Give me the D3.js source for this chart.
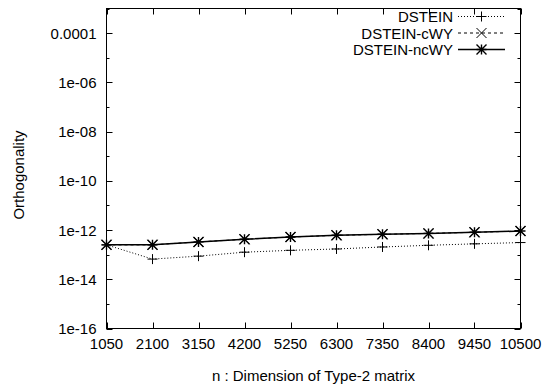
<!DOCTYPE html>
<html lang="en">
<head>
    <meta charset="UTF-8">
    <title>Orthogonality</title>
    <script src="https://d3js.org/d3.v7.min.js"></script>
    <style>
        body { margin: 0; background: #fff; }
        text { font-family: "Liberation Sans", Arial, sans-serif; font-size: 15px; fill: #000; }
    </style>
</head>
<body>
<script>
// data
const sizes = [1050, 2100, 3150, 4200, 5250, 6300, 7350, 8400, 9450, 10500];
const dstein = [2.5e-13, 6.6e-14, 8.7e-14, 1.26e-13, 1.5e-13, 1.7e-13, 2.05e-13, 2.4e-13, 2.75e-13, 3.1e-13];
const dsteinCWY = [2.5e-13, 2.5e-13, 3.3e-13, 4.2e-13, 5.2e-13, 6.1e-13, 6.7e-13, 7.3e-13, 8.1e-13, 9.1e-13];
const dsteinNcWY = [2.5e-13, 2.5e-13, 3.3e-13, 4.2e-13, 5.2e-13, 6.1e-13, 6.7e-13, 7.3e-13, 8.1e-13, 9.1e-13];
const yTickLabels = ["1e-16", "1e-14", "1e-12", "1e-10", "1e-08", "1e-06", "0.0001"];
const seriesNames = ["DSTEIN", "DSTEIN-cWY", "DSTEIN-ncWY"];

const width = 548, height = 385;
const margin = {left: 106.5, right: 27.5, top: 8.5, bottom: 57};

const svg = d3.select("body").append("svg")
    .attr("width", width)
    .attr("height", height);

const x = d3.scaleLinear()
    .domain([1050, 10500])
    .range([margin.left, width - margin.right]);

const y = d3.scaleLog()
    .domain([1e-16, 1e-3])
    .range([height - margin.bottom + 0.5, margin.top]);

const yTicks = d3.range(-16, -2).map(e => Math.pow(10, e));
const yLabelled = yTickLabels.map(Number);

// frame
svg.append("rect")
    .attr("x", margin.left).attr("y", margin.top)
    .attr("width", x.range()[1] - x.range()[0])
    .attr("height", y.range()[0] - y.range()[1])
    .attr("fill", "none").attr("stroke", "#000").attr("stroke-width", 1);

// x ticks (inward, top and bottom)
const gx = svg.append("g");
sizes.forEach(v => {
    const px = Math.round(x(v)) + 0.5;
    gx.append("line").attr("x1", px).attr("x2", px)
        .attr("y1", y.range()[0]).attr("y2", y.range()[0] - 6).attr("stroke", "#000");
    gx.append("line").attr("x1", px).attr("x2", px)
        .attr("y1", y.range()[1]).attr("y2", y.range()[1] + 6).attr("stroke", "#000");
    gx.append("text").attr("x", x(v)).attr("y", 348.5)
        .attr("text-anchor", "middle").text(v);
});

// y ticks
const gy = svg.append("g");
yTicks.forEach(v => {
    const py = Math.round(y(v)) + 0.5;
    const big = yLabelled.some(l => Math.abs(Math.log10(l) - Math.log10(v)) < 1e-6);
    const len = big ? 6 : 3;
    gy.append("line").attr("x1", x.range()[0]).attr("x2", x.range()[0] + len)
        .attr("y1", py).attr("y2", py).attr("stroke", "#000");
    gy.append("line").attr("x1", x.range()[1]).attr("x2", x.range()[1] - len)
        .attr("y1", py).attr("y2", py).attr("stroke", "#000");
});
yTickLabels.forEach(l => {
    gy.append("text").attr("x", x.range()[0] - 10).attr("y", y(+l) + 5.5)
        .attr("text-anchor", "end").text(l);
});

// axis titles
svg.append("text")
    .attr("x", (x.range()[0] + x.range()[1]) / 2).attr("y", 381)
    .attr("text-anchor", "middle")
    .text("n : Dimension of Type-2 matrix");
svg.append("text")
    .attr("transform", "translate(24,175) rotate(-90)")
    .attr("text-anchor", "middle")
    .text("Orthogonality");

// markers
function plus(g, cx, cy) {
    g.append("path").attr("d", `M${cx - 5},${cy}H${cx + 5}M${cx},${cy - 5}V${cy + 5}`)
        .attr("stroke", "#000").attr("stroke-width", 1).attr("fill", "none");
}
function cross(g, cx, cy) {
    g.append("path").attr("d", `M${cx - 5},${cy - 5}L${cx + 5},${cy + 5}M${cx - 5},${cy + 5}L${cx + 5},${cy - 5}`)
        .attr("stroke", "#000").attr("stroke-width", 1).attr("fill", "none");
}
function star(g, cx, cy) {
    g.append("path").attr("d", `M${cx - 5},${cy}H${cx + 5}M${cx},${cy - 5}V${cy + 5}M${cx - 5},${cy - 5}L${cx + 5},${cy + 5}M${cx - 5},${cy + 5}L${cx + 5},${cy - 5}`)
        .attr("stroke", "#000").attr("stroke-width", 1.4).attr("fill", "none");
}

const series = [
    {name: seriesNames[0], values: dstein, dash: "1,2", width: 1, marker: plus},
    {name: seriesNames[1], values: dsteinCWY, dash: "3,3", width: 1, marker: cross},
    {name: seriesNames[2], values: dsteinNcWY, dash: null, width: 1.5, marker: star}
];

const line = d3.line()
    .x((d, i) => x(sizes[i]))
    .y(d => y(d));

series.forEach((s, k) => {
    const g = svg.append("g");
    g.append("path").datum(s.values)
        .attr("d", line)
        .attr("fill", "none").attr("stroke", "#000")
        .attr("stroke-width", s.width)
        .attr("stroke-dasharray", s.dash);
    s.values.forEach((v, i) => s.marker(g, x(sizes[i]), y(v)));

    // legend
    const ly = 16.5 + k * 16.5;
    svg.append("text").attr("x", 453).attr("y", ly + 5.5)
        .attr("text-anchor", "end").text(s.name);
    g.append("line").attr("x1", 458).attr("x2", 505)
        .attr("y1", ly).attr("y2", ly)
        .attr("stroke", "#000").attr("stroke-width", s.width)
        .attr("stroke-dasharray", s.dash);
    s.marker(g, 481.5, ly);
});
</script>
</body>
</html>
